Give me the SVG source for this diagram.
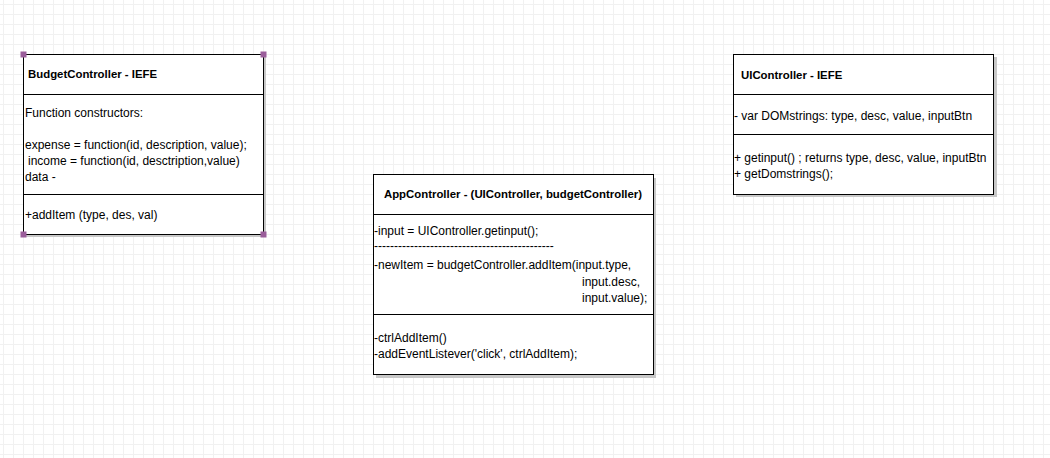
<svg xmlns="http://www.w3.org/2000/svg" width="1050" height="458" viewBox="0 0 1050 458">
<defs>
<pattern id="grid" x="3" y="4" width="10" height="10" patternUnits="userSpaceOnUse">
<path d="M0.5 0V10M0 0.5H10" stroke="#f1f1f1" stroke-width="1" fill="none"/>
</pattern>
<style>
.box{fill:#ffffff;stroke:#000000;stroke-width:1}
.shadow{fill:#c8c8c8}
.div{stroke:#000000;stroke-width:1}
.t{font-family:"Liberation Sans",Arial,sans-serif;font-size:12px;fill:#000000}
.b{font-weight:bold;font-size:11.4px}
.h{fill:#9b5e9b}
</style>
</defs>
<rect width="1050" height="458" fill="#ffffff"/>
<rect width="1050" height="458" fill="url(#grid)"/>
<g id="connectors"></g>

<g id="budgetController">
<rect class="shadow" x="26" y="57" width="240" height="180"/>
<rect class="box" x="23.5" y="54.5" width="240" height="180"/>
<line class="div" x1="23.5" y1="94.5" x2="263.5" y2="94.5"/>
<line class="div" x1="23.5" y1="194.5" x2="263.5" y2="194.5"/>
<text class="t b" x="28" y="78">BudgetController - IEFE</text>
<text class="t" x="25" y="117">Function constructors:</text>
<text class="t" x="25" y="149">expense = function(id, description, value);</text>
<text class="t" x="28" y="165">income = function(id, desctription,value)</text>
<text class="t" x="25" y="181">data -</text>
<text class="t" x="25" y="219">+addItem (type, des, val)</text>
<rect class="h" x="20.5" y="51.5" width="6" height="6"/>
<rect class="h" x="260.5" y="51.5" width="6" height="6"/>
<rect class="h" x="20.5" y="231.5" width="6" height="6"/>
<rect class="h" x="260.5" y="231.5" width="6" height="6"/>
</g>

<g id="appController">
<rect class="shadow" x="376" y="178" width="280" height="200"/>
<rect class="box" x="373.5" y="174.5" width="280" height="200"/>
<line class="div" x1="373.5" y1="214.5" x2="653.5" y2="214.5"/>
<line class="div" x1="373.5" y1="314.5" x2="653.5" y2="314.5"/>
<text class="t b" x="513" y="198" text-anchor="middle">AppController - (UIController, budgetController)</text>
<text class="t" x="374" y="235">-input = UIController.getinput();</text>
<text class="t" x="374" y="250">---------------------------------------------</text>
<text class="t" x="374" y="269">-newItem = budgetController.addItem(input.type,</text>
<text class="t" x="582" y="286">input.desc,</text>
<text class="t" x="582" y="302">input.value);</text>
<text class="t" x="374" y="342">-ctrlAddItem()</text>
<text class="t" x="374" y="358">-addEventListever('click', ctrlAddItem);</text>
</g>

<g id="uiController">
<rect class="shadow" x="736" y="57" width="261" height="140"/>
<rect class="box" x="733.5" y="54.5" width="260" height="140"/>
<line class="div" x1="733.5" y1="94.5" x2="993.5" y2="94.5"/>
<line class="div" x1="733.5" y1="134.5" x2="993.5" y2="134.5"/>
<text class="t b" x="741" y="79">UIController - IEFE</text>
<text class="t" x="734" y="120">- var DOMstrings: type, desc, value, inputBtn</text>
<text class="t" x="734" y="162">+ getinput() ; returns type, desc, value, inputBtn</text>
<text class="t" x="734" y="178">+ getDomstrings();</text>
</g>
</svg>
